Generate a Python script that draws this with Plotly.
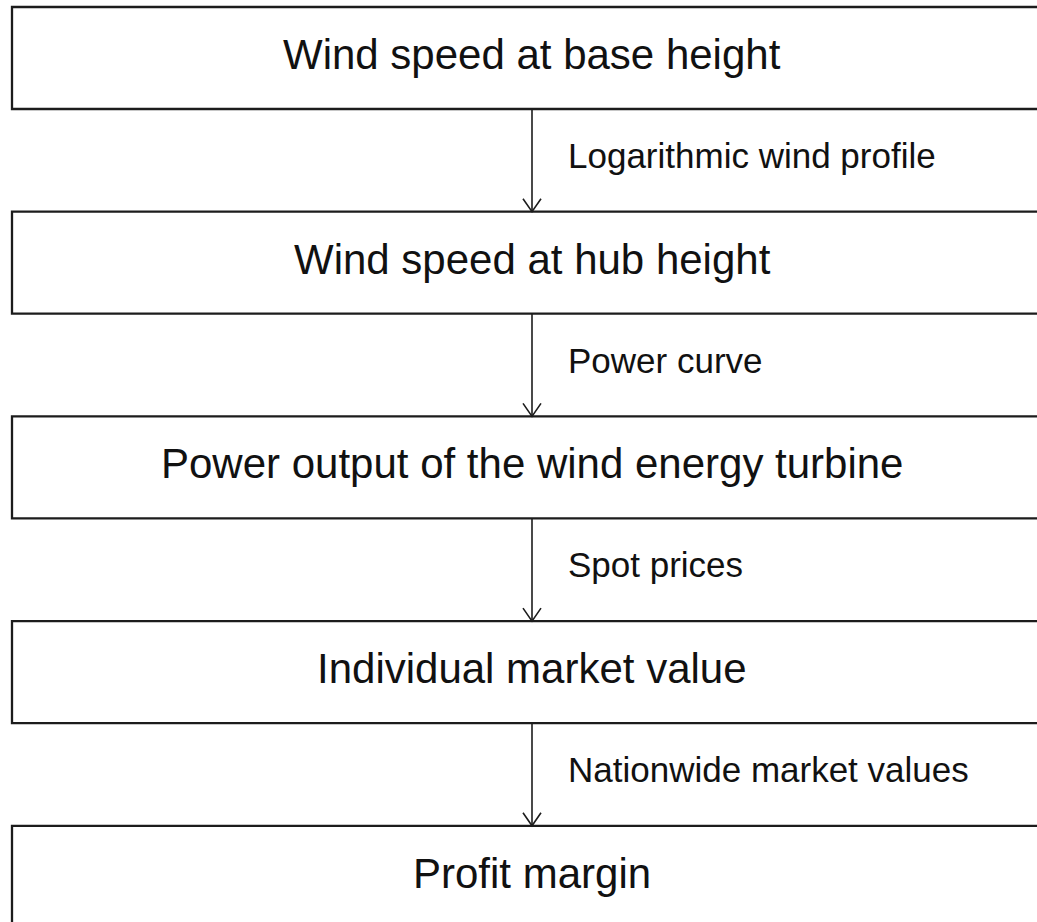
import plotly.graph_objects as go

# 流程步骤和过渡说明
steps = [
    "Wind speed at base height",
    "Wind speed at hub height",
    "Power output of the wind energy turbine",
    "Individual market value",
    "Profit margin",
]
transitions = [
    "Logarithmic wind profile",
    "Power curve",
    "Spot prices",
    "Nationwide market values",
]

# 版面参数（像素坐标）
W, H = 1037, 922
box_left, box_right = 12, 1060
box_top0, box_h, step_gap = 7, 102, 204.7
arrow_x = 532
label_x = 566
line_col = "#1c1c1c"

fig = go.Figure()
shapes = []
annotations = []

for i, name in enumerate(steps):
    top = box_top0 + i * step_gap
    shapes.append(dict(type="rect", x0=box_left, x1=box_right, y0=top, y1=top + box_h,
                       line=dict(color=line_col, width=2.3), fillcolor="white", layer="below"))
    annotations.append(dict(x=arrow_x, y=top + box_h / 2 - 3.5, text=name, showarrow=False,
                            xanchor="center", yanchor="middle",
                            font=dict(family="Liberation Sans, Arial", size=42, color="#111111")))

for i, label in enumerate(transitions):
    y0 = box_top0 + i * step_gap + box_h
    y1 = box_top0 + (i + 1) * step_gap
    shapes.append(dict(type="line", x0=arrow_x, x1=arrow_x, y0=y0, y1=y1,
                       line=dict(color=line_col, width=1.6)))
    shapes.append(dict(type="path",
                       path=f"M {arrow_x - 9} {y1 - 13} L {arrow_x} {y1} L {arrow_x + 9} {y1 - 13}",
                       line=dict(color=line_col, width=1.6)))
    annotations.append(dict(x=label_x, y=(y0 + y1) / 2 - 5, text=label, showarrow=False,
                            xanchor="left", yanchor="middle",
                            font=dict(family="Liberation Sans, Arial", size=35, color="#111111")))

fig.update_layout(
    width=W, height=H,
    margin=dict(l=0, r=0, t=0, b=0),
    paper_bgcolor="white", plot_bgcolor="white",
    xaxis=dict(range=[0, W], visible=False, fixedrange=True),
    yaxis=dict(range=[H, 0], visible=False, fixedrange=True),
    shapes=shapes,
    annotations=annotations,
    showlegend=False,
)

# 去掉页面默认边距和工具栏，让图表贴齐窗口
fig.write_html("out.html", config={"displayModeBar": False},
               post_script="document.body.style.margin='0';document.body.style.overflow='hidden';")
